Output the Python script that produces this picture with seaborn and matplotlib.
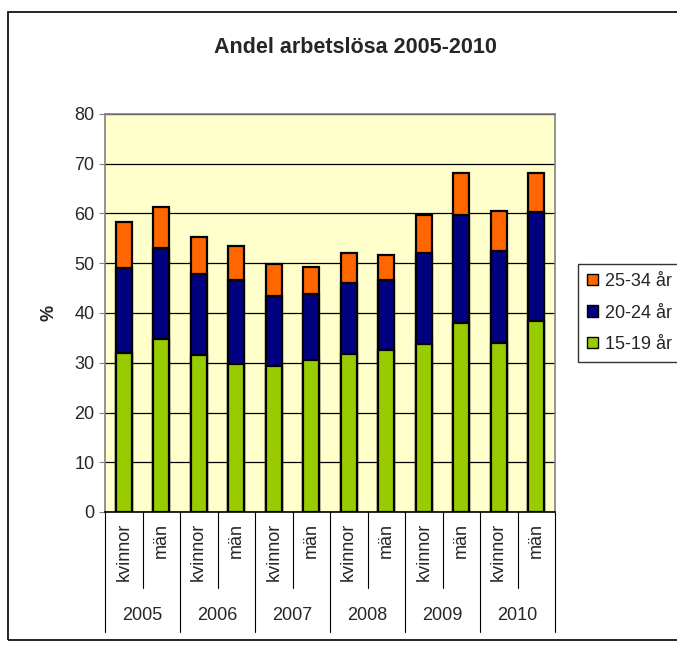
import numpy as np
import pandas as pd
import seaborn as sns
import matplotlib.pyplot as plt
from matplotlib.patches import Patch, Rectangle
import matplotlib.transforms as mtransforms

sns.set_style("white")
plt.rcParams['font.family'] = ['Liberation Sans', 'DejaVu Sans']

years = ["2005", "2006", "2007", "2008", "2009", "2010"]
sexes = ["kvinnor", "män"]
age_15_19 = [32.0, 34.8, 31.5, 29.7, 29.3, 30.5, 31.8, 32.6, 33.7, 38.0, 34.0, 38.3]
age_20_24 = [17.0, 18.3, 16.3, 17.0, 14.2, 13.3, 14.2, 14.1, 18.4, 21.6, 18.5, 22.0]
age_25_34 = [9.2, 8.3, 7.5, 6.8, 6.3, 5.4, 6.1, 5.0, 7.5, 8.6, 8.1, 7.9]

labels = ["{} {}".format(y, s) for y in years for s in sexes]
df = pd.DataFrame({"bar": labels,
                   "15-19 år": age_15_19,
                   "20-24 år": age_20_24,
                   "25-34 år": age_25_34})
df["lvl2"] = df["15-19 år"] + df["20-24 år"]
df["lvl3"] = df["lvl2"] + df["25-34 år"]

colors = {"25-34 år": "#FF6600", "20-24 år": "#000080", "15-19 år": "#99CC00"}

fig = plt.figure(figsize=(6.77, 6.48), dpi=100)
ax = fig.add_axes([105 / 677, 1 - 512 / 648, 450 / 677, 398 / 648])
ax.set_facecolor("#FFFFCC")

# border round the whole chart
fig.patches.append(Rectangle((8 / 677, 1 - 640 / 648), 680 / 677, 628 / 648,
                             transform=fig.transFigure, fill=False,
                             edgecolor="black", linewidth=1.2))

ax.set_axisbelow(True)
ax.yaxis.grid(True, color="black", linewidth=0.9)

bw = 0.43
sns.barplot(data=df, x="bar", y="lvl3", color=colors["25-34 år"], saturation=1,
            width=bw, edgecolor="black", linewidth=1.6, ax=ax)
sns.barplot(data=df, x="bar", y="lvl2", color=colors["20-24 år"], saturation=1,
            width=bw, edgecolor="black", linewidth=1.6, ax=ax)
sns.barplot(data=df, x="bar", y="15-19 år", color=colors["15-19 år"], saturation=1,
            width=bw, edgecolor="black", linewidth=1.6, ax=ax)

ax.set_ylim(0, 80)
ax.set_xlim(-0.5, len(labels) - 0.5)
ax.set_yticks(range(0, 81, 10))
ax.tick_params(axis="y", labelsize=13, length=4, color="gray", direction="out", left=True)
ax.set_ylabel("%", fontsize=13, fontweight="bold", labelpad=12)
ax.set_xlabel("")

for side in ["top", "right", "left", "bottom"]:
    ax.spines[side].set_color("gray")
    ax.spines[side].set_linewidth(1.2)
ax.spines["bottom"].set_color("black")

# category axis: sex labels, then years
ax.set_xticks(range(len(labels)))
ax.set_xticklabels([s for y in years for s in sexes], rotation=90, fontsize=13)
ax.tick_params(axis="x", length=0, pad=8)

trans = mtransforms.blended_transform_factory(ax.transData, ax.transAxes)
for i in range(len(years)):
    ax.plot([2 * i + 0.5, 2 * i + 0.5], [0, -76 / 398], color="black", lw=0.8,
            transform=trans, clip_on=False)
for i in range(len(years) + 1):
    ax.plot([2 * i - 0.5, 2 * i - 0.5], [0, -120 / 398], color="black", lw=0.8,
            transform=trans, clip_on=False)
for i, y in enumerate(years):
    ax.text(2 * i + 0.5, -104 / 398, y, transform=trans, ha="center", va="center",
            fontsize=13)

ax.set_title("Andel arbetslösa 2005-2010", fontsize=15.5, fontweight="bold", pad=44,
             x=(355 - 105) / 450)

handles = [Patch(facecolor=colors[k], edgecolor="black", label=k)
           for k in ["25-34 år", "20-24 år", "15-19 år"]]
leg = fig.legend(handles=handles, loc="center left", bbox_to_anchor=(578 / 677, 1 - 313 / 648),
                 fontsize=13, frameon=True, fancybox=False, edgecolor="black",
                 handlelength=0.6, handleheight=0.6, handletextpad=0.4,
                 labelspacing=0.8, borderpad=0.5, borderaxespad=0)
leg.get_frame().set_linewidth(1.0)

fig.savefig("out.png", dpi=100)
